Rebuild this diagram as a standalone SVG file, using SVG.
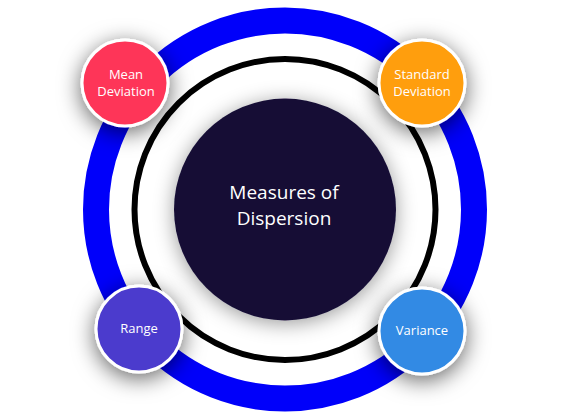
<svg xmlns="http://www.w3.org/2000/svg" width="570" height="420" viewBox="0 0 570 420">
  <defs>
    <filter id="shadowBig" x="-30%" y="-30%" width="160%" height="160%">
      <feDropShadow dx="0" dy="3" stdDeviation="10" flood-color="#000" flood-opacity="0.4"/>
    </filter>
    <filter id="shadowSmall" x="-70%" y="-70%" width="240%" height="240%">
      <feDropShadow dx="0" dy="5" stdDeviation="11" flood-color="#000" flood-opacity="0.6"/>
    </filter>
    <style>
      .lbl { font-family: "Open Sans", "Noto Sans", "DejaVu Sans", sans-serif; fill: #ffffff; text-anchor: middle; }
      .small { font-size: 13px; }
      .big { font-size: 19px; }
      .bubble { stroke: #ffffff; stroke-width: 3; filter: url(#shadowSmall); }
    </style>
  </defs>
  <rect width="570" height="420" fill="#ffffff"/>
  <g id="rings">
    <circle cx="285" cy="209.5" r="189" fill="none" stroke="#0000fa" stroke-width="26"/>
    <circle cx="285" cy="209.5" r="150.5" fill="none" stroke="#000000" stroke-width="6"/>
  </g>
  <g id="center">
    <circle cx="285" cy="209.5" r="111" fill="#160f36" filter="url(#shadowBig)"/>
    <text class="lbl big" x="284" y="199">Measures of</text>
    <text class="lbl big" x="284" y="225">Dispersion</text>
  </g>
  <g id="mean-deviation">
    <circle class="bubble" cx="125" cy="83" r="43" fill="#fe3658"/>
    <text class="lbl small" x="126" y="79">Mean</text>
    <text class="lbl small" x="126" y="96">Deviation</text>
  </g>
  <g id="standard-deviation">
    <circle class="bubble" cx="422" cy="83" r="43" fill="#ff9e0b"/>
    <text class="lbl small" x="422" y="79">Standard</text>
    <text class="lbl small" x="422" y="96">Deviation</text>
  </g>
  <g id="range">
    <circle class="bubble" cx="139" cy="329" r="43" fill="#4b3acd"/>
    <text class="lbl small" x="139" y="333">Range</text>
  </g>
  <g id="variance">
    <circle class="bubble" cx="422" cy="331" r="43" fill="#318ae4"/>
    <text class="lbl small" x="422" y="335">Variance</text>
  </g>
  <g id="connectors"></g>
</svg>
